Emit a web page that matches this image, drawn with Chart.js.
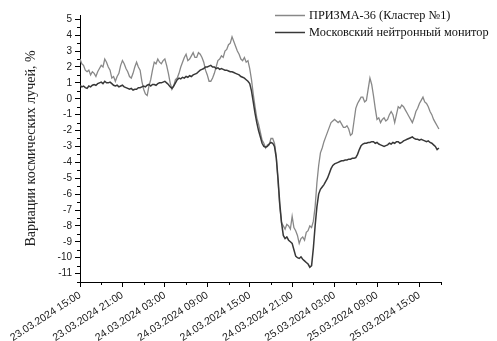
<!DOCTYPE html>
<html lang="ru">
<head>
    <meta charset="UTF-8">
    <title>Вариации космических лучей</title>
    <script src="https://cdn.jsdelivr.net/npm/chart.js"></script>
    <style>
        body { margin: 0; background: #fff; }
        #wrap { width: 497px; height: 341px; position: relative; }
    </style>
</head>
<body>
    <div id="wrap"><canvas id="crChart"></canvas></div>
    <script>
        // samples every 15 minutes, counted in hours from 23.03.2024 15:00
        const sampleStep = 0.25;

        const prisma = [
            2.5, 2.2, 2.1, 1.8,  1.7, 1.8, 1.5, 1.7,  1.6, 1.4, 1.7, 1.9,  2.1, 2.0, 2.5, 2.3,
            2.0, 1.8, 1.3, 1.4,  1.1, 1.4, 1.6, 2.1,  2.4, 2.2, 1.9, 1.7,  1.4, 1.3, 1.6, 2.0,
            2.3, 2.0, 1.8, 1.1,  0.6, 0.3, 0.2, 0.8,  1.2, 1.8, 2.3, 2.2,  2.5, 2.3, 2.2, 2.4,
            2.5, 2.1, 1.6, 1.0,  0.6, 0.8, 1.2, 1.3,  1.6, 2.0, 2.3, 2.6,  2.8, 2.4, 2.5, 2.7,
            2.9, 2.6, 2.6, 2.9,  2.8, 2.6, 2.3, 1.8,  1.5, 1.1, 1.1, 1.3,  1.6, 2.0, 2.4, 2.5,
            2.7, 2.6, 3.0, 3.1,  3.4, 3.5, 3.9, 3.6,  3.3, 3.0, 2.8, 2.5,  2.4, 2.6, 2.3, 2.4,
            1.9, 1.2, 0.3, -0.5,  -1.2, -1.6, -2.1, -2.6,  -2.8, -3.1, -2.9, -2.9,  -2.5, -2.5, -2.8, -3.6,
            -5.2, -6.8, -7.8, -8.0,  -8.2, -7.9, -8.0, -8.2,  -7.4, -8.1, -8.3, -8.6,  -9.1, -8.8, -8.7, -8.9,
            -8.4, -8.3, -8.0, -8.1,  -7.7, -6.8, -5.3, -4.2,  -3.4, -3.1, -2.7, -2.4,  -2.1, -1.8, -1.5, -1.4,
            -1.3, -1.4, -1.5, -1.4,  -1.6, -1.8, -1.8, -1.7,  -1.9, -2.3, -2.2, -1.4,  -0.6, -0.3, -0.1, 0.1,
            0.1, -0.2, -0.1, 0.6,  1.3, 0.9, 0.2, -0.6,  -1.3, -1.2, -1.5, -1.3,  -1.2, -1.4, -1.3, -1.0,
            -0.8, -1.0, -1.5, -1.0,  -0.5, -0.6, -0.4, -0.5,  -0.7, -0.9, -1.1, -1.3,  -1.5, -1.2, -0.8, -0.6,
            -0.3, -0.1, 0.1, -0.2,  -0.3, -0.5, -0.8, -1.0,  -1.3, -1.5, -1.7, -1.9
        ];

        const monitor = [
            0.85, 0.75, 0.8, 0.7,  0.65, 0.8, 0.75, 0.85,  0.9, 0.85, 0.95, 1.0,  1.05, 0.95, 1.1, 1.0,
            1.0, 1.05, 0.95, 0.85,  0.8, 0.85, 0.75, 0.8,  0.85, 0.75, 0.7, 0.65,  0.6, 0.65, 0.55, 0.6,
            0.6, 0.7, 0.7, 0.75,  0.8, 0.75, 0.85, 0.9,  0.8, 0.9, 0.9, 0.85,  0.95, 1.0, 1.0, 1.05,
            1.1, 1.0, 0.9, 0.75,  0.65, 0.8, 1.0, 1.2,  1.3, 1.25, 1.35, 1.3,  1.4, 1.35, 1.45, 1.4,
            1.5, 1.55, 1.6, 1.7,  1.8, 1.85, 1.9, 2.0,  2.0, 2.05, 2.1, 2.0,  2.0, 1.9, 1.95, 1.85,
            1.9, 1.85, 1.8, 1.8,  1.75, 1.7, 1.7, 1.65,  1.6, 1.55, 1.5, 1.4,  1.35, 1.3, 1.2, 1.1,
            0.95, 0.5, -0.2, -0.9,  -1.5, -2.0, -2.4, -2.8,  -3.0, -3.05, -3.0, -2.85,  -2.75, -2.8, -3.0, -3.7,
            -5.0, -6.6, -7.8, -8.6,  -8.8, -8.7, -8.9, -9.0,  -9.1, -9.5, -9.9, -10.0,  -10.05, -9.95, -10.1, -10.2,
            -10.3, -10.4, -10.6, -10.5,  -9.4, -8.0, -6.8, -6.0,  -5.7, -5.55, -5.4, -5.2,  -5.0, -4.7, -4.4, -4.2,
            -4.1, -4.05, -4.0, -3.95,  -3.9, -3.9, -3.85, -3.85,  -3.8, -3.8, -3.75, -3.75,  -3.7, -3.5, -3.2, -2.95,
            -2.85, -2.8, -2.8, -2.75,  -2.75, -2.7, -2.7, -2.8,  -2.75, -2.85, -2.9, -2.95,  -3.0, -2.95, -2.9, -2.8,
            -2.85, -2.75, -2.8, -2.7,  -2.7, -2.8, -2.75, -2.65,  -2.6, -2.55, -2.5, -2.45,  -2.4, -2.5, -2.55, -2.55,
            -2.6, -2.55, -2.6, -2.65,  -2.7, -2.65, -2.75, -2.8,  -2.9, -3.0, -3.2, -3.1
        ];

        const hours = prisma.map((_, i) => i * sampleStep);

        const xTickHours = [0, 6, 12, 18, 24, 30, 36, 42, 48];
        const xTickLabels = [
            '23.03.2024 15:00', '23.03.2024 21:00', '24.03.2024 03:00',
            '24.03.2024 09:00', '24.03.2024 15:00', '24.03.2024 21:00',
            '25.03.2024 03:00', '25.03.2024 09:00', '25.03.2024 15:00'
        ];
        const yTicks = [-11, -10, -9, -8, -7, -6, -5, -4, -3, -2, -1, 0, 1, 2, 3, 4, 5];

        const seriesNames = ['ПРИЗМА-36 (Кластер №1)', 'Московский нейтронный монитор'];

        const toPoints = arr => arr.map((v, i) => ({ x: hours[i], y: v }));

        // small ticks between the labelled ones
        const minorTicks = {
            id: 'minorTicks',
            afterDraw(chart) {
                const { ctx, scales: { x, y } } = chart;
                ctx.save();
                ctx.strokeStyle = '#000';
                ctx.lineWidth = 1;
                ctx.beginPath();
                yTicks.forEach(v => {
                    const py = Math.round(y.getPixelForValue(v - 0.5)) + 0.5;
                    ctx.moveTo(x.left, py);
                    ctx.lineTo(x.left - 3, py);
                });
                xTickHours.forEach(h => {
                    const px = Math.round(x.getPixelForValue(h + 3)) + 0.5;
                    ctx.moveTo(px, y.bottom);
                    ctx.lineTo(px, y.bottom + 3);
                });
                ctx.stroke();
                ctx.restore();
            }
        };

        // legend sits in the top right corner, partly outside the plot
        const cornerLegend = {
            id: 'cornerLegend',
            afterDraw(chart) {
                const ctx = chart.ctx;
                ctx.save();
                ctx.font = '12.3px "Liberation Serif", "Times New Roman", serif';
                ctx.textBaseline = 'middle';
                chart.data.datasets.forEach((ds, i) => {
                    const ly = 15.5 + i * 17;
                    ctx.strokeStyle = ds.borderColor;
                    ctx.lineWidth = 1.5;
                    ctx.beginPath();
                    ctx.moveTo(275, ly);
                    ctx.lineTo(305, ly);
                    ctx.stroke();
                    ctx.fillStyle = '#111';
                    ctx.fillText(ds.label, 309, ly);
                });
                ctx.restore();
            }
        };

        const ctx = document.getElementById('crChart').getContext('2d');
        new Chart(ctx, {
            type: 'line',
            data: {
                datasets: [
                    {
                        label: seriesNames[0],
                        data: toPoints(prisma),
                        borderColor: '#888888',
                        borderWidth: 1.3,
                        pointRadius: 0,
                        order: 2
                    },
                    {
                        label: seriesNames[1],
                        data: toPoints(monitor),
                        borderColor: '#383838',
                        borderWidth: 1.5,
                        pointRadius: 0,
                        order: 1
                    }
                ]
            },
            options: {
                responsive: true,
                maintainAspectRatio: false,
                animation: false,
                layout: { padding: { top: 15, right: 56, left: 0, bottom: 0 } },
                plugins: {
                    legend: { display: false },
                    tooltip: { enabled: false }
                },
                scales: {
                    x: {
                        type: 'linear',
                        min: 0,
                        max: 51.05,
                        afterBuildTicks: s => { s.ticks = xTickHours.map(v => ({ value: v })); },
                        afterFit: s => { s.height = 59; },
                        border: { display: true, color: '#000', width: 1 },
                        grid: { drawOnChartArea: false, drawTicks: true, tickLength: 5, color: '#000' },
                        ticks: {
                            autoSkip: false,
                            minRotation: 33,
                            maxRotation: 33,
                            padding: 2,
                            color: '#222',
                            font: { family: 'Arial, "Liberation Sans", sans-serif', size: 10.5 },
                            callback: v => xTickLabels[xTickHours.indexOf(v)]
                        }
                    },
                    y: {
                        min: -11.53,
                        max: 5.27,
                        afterBuildTicks: s => { s.ticks = yTicks.map(v => ({ value: v })); },
                        afterFit: s => { s.width = 80; },
                        border: { display: true, color: '#000', width: 1 },
                        grid: { drawOnChartArea: false, drawTicks: true, tickLength: 5, color: '#000' },
                        ticks: {
                            padding: 3,
                            color: '#222',
                            font: { family: 'Arial, "Liberation Sans", sans-serif', size: 10 }
                        },
                        title: {
                            display: true,
                            text: 'Вариации космических лучей, %',
                            color: '#222',
                            padding: { top: 23, bottom: 0 },
                            font: { family: '"Liberation Serif", "Times New Roman", serif', size: 14, weight: 'normal' }
                        }
                    }
                }
            },
            plugins: [minorTicks, cornerLegend]
        });
    </script>
</body>
</html>
